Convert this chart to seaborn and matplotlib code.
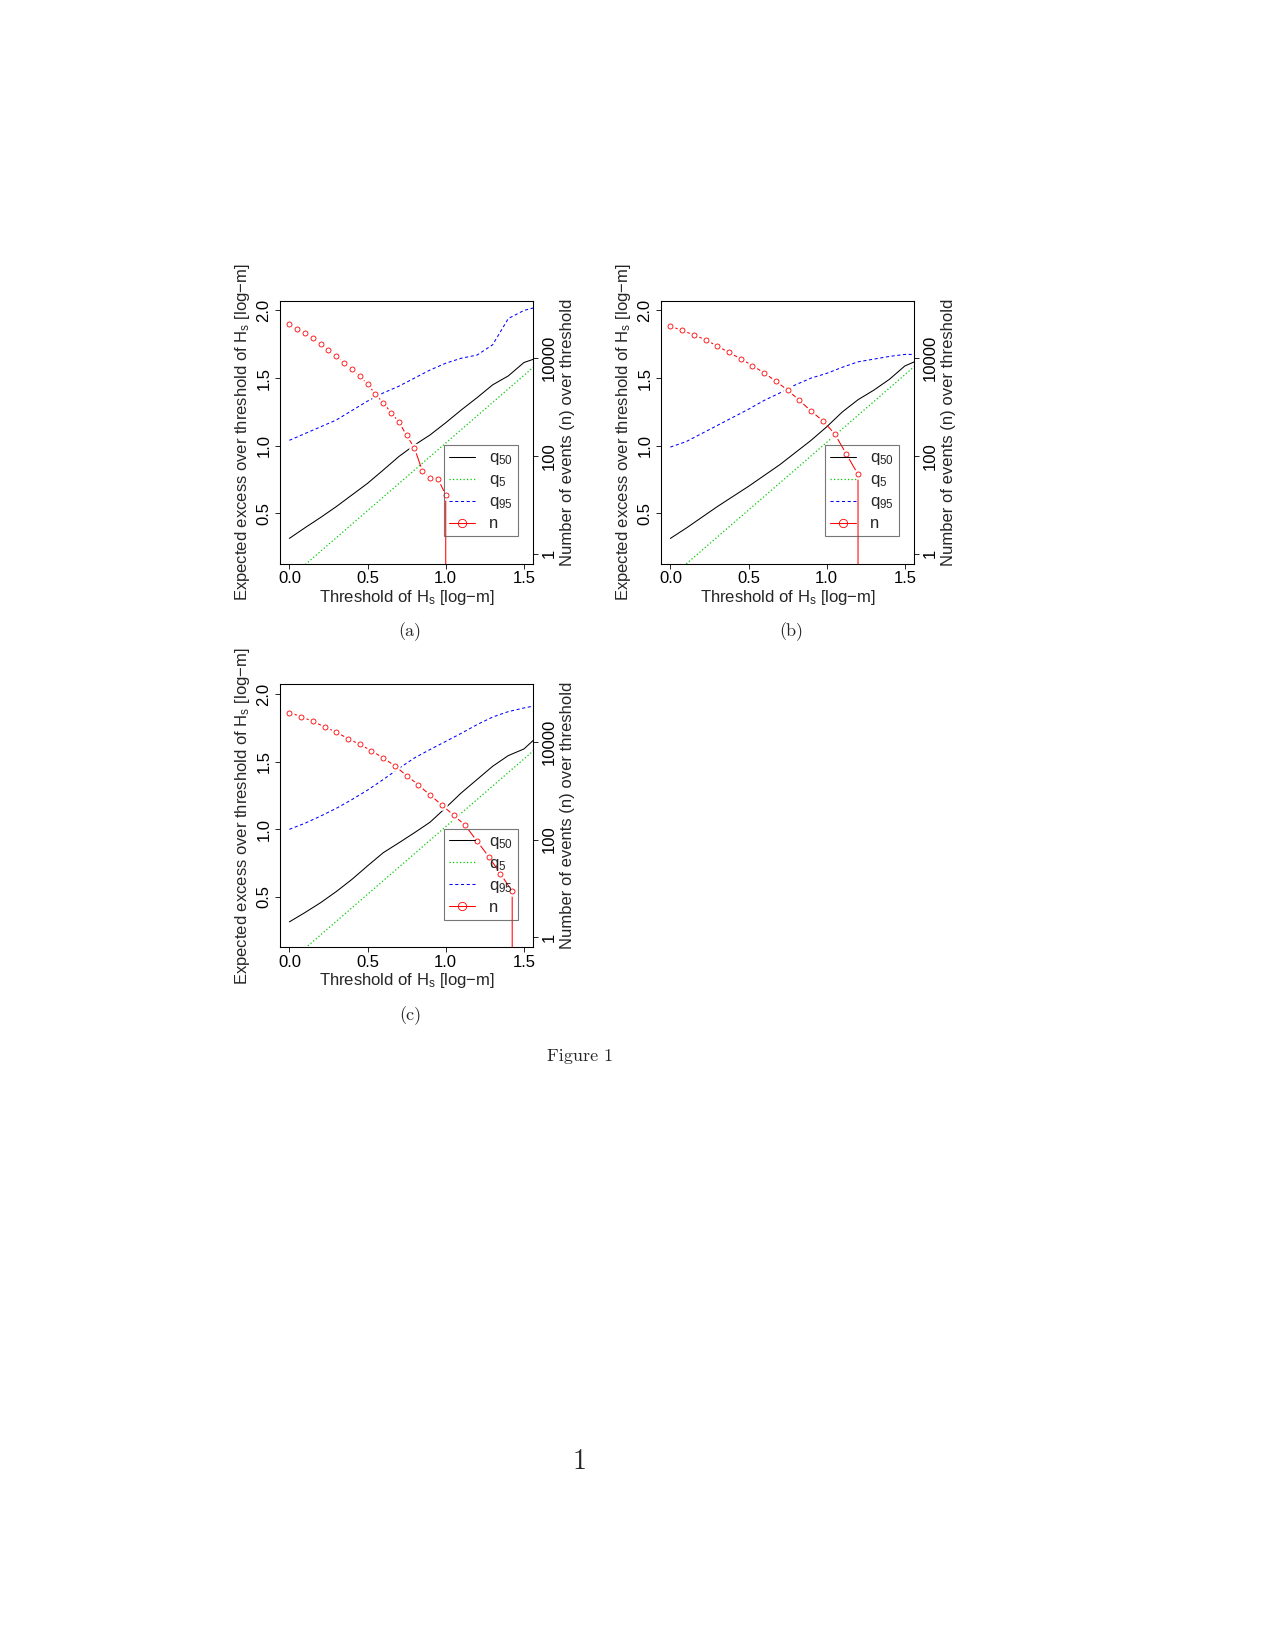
import matplotlib
matplotlib.use("Agg")
import matplotlib.pyplot as plt
from matplotlib.lines import Line2D
import seaborn as sns

# valores (umbral de Hs en log-m)
thr = [0.0, 0.1, 0.2, 0.3, 0.4, 0.5, 0.6, 0.7, 0.8, 0.9, 1.0, 1.1, 1.2, 1.3, 1.4, 1.5, 1.6]

# panel (a)
q50_a = [0.315, 0.394, 0.47, 0.55, 0.636, 0.722, 0.82, 0.92, 1.005, 1.08, 1.17, 1.265, 1.355, 1.45, 1.516, 1.615, 1.655]
q5_a = [0.02, 0.12, 0.22, 0.32, 0.42, 0.52, 0.62, 0.72, 0.82, 0.92, 1.02, 1.12, 1.22, 1.32, 1.42, 1.52, 1.62]
q95_a = [1.04, 1.09, 1.14, 1.19, 1.26, 1.33, 1.39, 1.44, 1.50, 1.56, 1.61, 1.647, 1.67, 1.746, 1.94, 2.0, 2.03]
n_thr_a = [0.0, 0.05, 0.1, 0.15, 0.2, 0.25, 0.3, 0.35, 0.4, 0.45, 0.5, 0.55, 0.6, 0.65,
           0.7, 0.75, 0.8, 0.85, 0.9, 0.95, 1.0, 1.05]
n_a = [50000, 40700, 33100, 25700, 19950, 14800, 11200, 8130, 6030, 4270, 2950, 1860,
       1230, 776, 501, 263, 145, 50, 35, 34, 16, 0]

# panel (b)
q50_b = [0.315, 0.39, 0.47, 0.55, 0.625, 0.70, 0.78, 0.86, 0.95, 1.04, 1.14, 1.25, 1.34, 1.41, 1.49, 1.59, 1.64]
q5_b = [0.025, 0.125, 0.225, 0.325, 0.425, 0.525, 0.625, 0.725, 0.825, 0.925, 1.025, 1.125, 1.225, 1.325, 1.425, 1.525, 1.625]
q95_b = [0.99, 1.03, 1.09, 1.15, 1.21, 1.27, 1.335, 1.39, 1.45, 1.50, 1.535, 1.58, 1.62, 1.64, 1.66, 1.675, 1.675]
n_thr_b = [0.0, 0.075, 0.15, 0.225, 0.3, 0.375, 0.45, 0.525, 0.6, 0.675, 0.75, 0.825,
           0.9, 0.975, 1.05, 1.125, 1.2, 1.275]
n_b = [45700, 37200, 30200, 24000, 17800, 13200, 9770, 7080, 5010, 3390, 2240, 1380,
       832, 525, 288, 110, 42, 0]

# panel (c)
q50_c = [0.316, 0.385, 0.458, 0.54, 0.63, 0.73, 0.827, 0.90, 0.975, 1.053, 1.16, 1.27, 1.368, 1.466, 1.545, 1.594, 1.70]
q5_c = [0.02, 0.12, 0.22, 0.32, 0.42, 0.52, 0.62, 0.72, 0.82, 0.92, 1.02, 1.12, 1.22, 1.32, 1.42, 1.52, 1.62]
q95_c = [1.0, 1.045, 1.098, 1.155, 1.22, 1.29, 1.368, 1.45, 1.528, 1.59, 1.65, 1.71, 1.774, 1.83, 1.87, 1.897, 1.92]
n_thr_c = [0.0, 0.075, 0.15, 0.225, 0.3, 0.375, 0.45, 0.525, 0.6, 0.675, 0.75, 0.825,
           0.9, 0.975, 1.05, 1.125, 1.2, 1.275, 1.35, 1.425, 1.5]
n_c = [39800, 33100, 26300, 20400, 15800, 11700, 8910, 6610, 4680, 3240, 2040, 1320,
       813, 513, 316, 195, 93, 45, 20, 8.7, 0]

paneles = [
    ("(a)", q50_a, q5_a, q95_a, n_thr_a, n_a),
    ("(b)", q50_b, q5_b, q95_b, n_thr_b, n_b),
    ("(c)", q50_c, q5_c, q95_c, n_thr_c, n_c),
]

sns.set_theme(style="ticks")
plt.rcParams["font.family"] = ["Liberation Sans", "DejaVu Sans"]
plt.rcParams["mathtext.fontset"] = "custom"
plt.rcParams["mathtext.rm"] = "Liberation Sans"
plt.rcParams["mathtext.it"] = "Liberation Sans:italic"
plt.rcParams["axes.linewidth"] = 0.75

fig = plt.figure(figsize=(12.75, 16.5), dpi=100)

# posiciones de los ejes (fraccion de la figura)
W, H = 1275, 1650
pos = {"(a)": (280, 300.7), "(b)": (661, 300.7), "(c)": (280, 684.3)}
ancho, alto = 253.3, 263
fs = 12

for nombre, q50, q5, q95, nx, n in paneles:
    x0, y0 = pos[nombre]
    ax = fig.add_axes([x0 / W, 1 - (y0 + alto) / H, ancho / W, alto / H])
    sns.lineplot(x=thr, y=q50, ax=ax, color="black", linewidth=0.75)
    sns.lineplot(x=thr, y=q5, ax=ax, color="#00cc00", linewidth=0.9, linestyle=(0, (1, 1.8)))
    sns.lineplot(x=thr, y=q95, ax=ax, color="blue", linewidth=0.75, linestyle=(0, (3, 2.5)))
    ax.set_xlim(-0.06, 1.56)
    ax.set_ylim(0.128, 2.072)
    ax.set_xticks([0.0, 0.5, 1.0, 1.5])
    ax.set_xticklabels(["0.0", "0.5", "1.0", "1.5"])
    ax.set_yticks([0.5, 1.0, 1.5, 2.0])
    ax.set_yticklabels(["0.5", "1.0", "1.5", "2.0"])
    ax.tick_params(direction="out", length=3.6, width=0.6, labelsize=fs, pad=2,
                   color="black", labelcolor="black")
    ax.tick_params(axis="y", labelrotation=90, pad=2.5)
    for t in ax.get_yticklabels():
        t.set_va("center")
    ax.set_xlabel("Threshold of H$_\\mathregular{s}$ [log\u2212m]", fontsize=fs, labelpad=1)
    ax.set_ylabel("Expected excess over threshold of H$_\\mathregular{s}$ [log\u2212m]",
                  fontsize=fs, labelpad=3)

    ax2 = ax.twinx()
    ax2.set_yscale("log")
    ax2.plot(nx, n, color="red", linewidth=0.75, zorder=2)
    ax2.plot(nx, n, linestyle="none", marker="o", markersize=6.5,
             markerfacecolor="white", markeredgecolor="white", zorder=3)
    ax2.plot(nx, n, linestyle="none", marker="o", markersize=3.6,
             markerfacecolor="none", markeredgecolor="red", markeredgewidth=0.6, zorder=4)
    ax2.set_ylim(10 ** -0.205, 10 ** 5.18)
    ax2.set_xlim(-0.06, 1.56)
    ax2.set_yticks([1, 100, 10000])
    ax2.set_yticklabels(["1", "100", "10000"])
    ax2.minorticks_off()
    ax2.tick_params(direction="out", length=3.6, width=0.6, labelsize=fs, pad=2.5,
                    color="black", labelcolor="black", labelrotation=90)
    for t in ax2.get_yticklabels():
        t.set_va("center")
    ax2.set_ylabel("Number of events (n) over threshold", fontsize=fs, labelpad=2)
    for s in ax2.spines.values():
        s.set_linewidth(0.75)
        s.set_color("black")

    handles = [
        Line2D([], [], color="black", linewidth=0.75),
        Line2D([], [], color="#00cc00", linewidth=0.9, linestyle=(0, (1, 1.8))),
        Line2D([], [], color="blue", linewidth=0.75, linestyle=(0, (3, 2.5))),
        Line2D([], [], color="red", linewidth=0.75, marker="o", markersize=6,
               markerfacecolor="none", markeredgewidth=0.6),
    ]
    etiquetas = ["q$_\\mathregular{50}$", "q$_\\mathregular{5}$", "q$_\\mathregular{95}$", "n"]
    leg = ax2.legend(handles, etiquetas, loc="lower right", bbox_to_anchor=(0.938, 0.104),
                     borderaxespad=0, fontsize=fs, frameon=True, fancybox=False,
                     handlelength=1.6, handletextpad=0.8, labelspacing=0.3,
                     borderpad=0.3, numpoints=1)
    leg.get_frame().set_facecolor("none")
    leg.get_frame().set_edgecolor("#555555")
    leg.get_frame().set_linewidth(0.8)

    # subtitulo del panel
    fig.text((x0 + 130) / W, 1 - (y0 + 331) / H, nombre, family="cmr10",
             fontsize=13, ha="center", va="center")

fig.text(580 / W, 1 - 1056.7 / H, "Figure 1", family="cmr10", fontsize=13,
         ha="center", va="center")
fig.text(580 / W, 1 - 1462 / H, "1", family="cmr10", fontsize=20,
         ha="center", va="center")

fig.savefig("out.png", dpi=100, facecolor="white")
